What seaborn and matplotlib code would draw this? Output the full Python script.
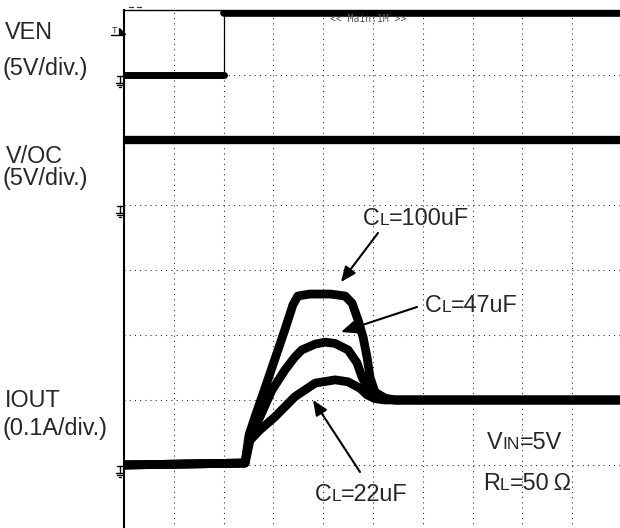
import numpy as np
import pandas as pd
import matplotlib
matplotlib.use("Agg")
import matplotlib.pyplot as plt
import matplotlib.transforms as mtransforms
from matplotlib.lines import Line2D
from matplotlib.patches import Polygon
import seaborn as sns

# ---------------- data (time in divisions, physical units per channel) -------------
ven_t = [0.0, 2.01, 2.01, 10.0]
ven_v = [0.0, 0.0, 4.75, 4.75]          # V
voc_t = [0.0, 10.0]
voc_v = [5.0, 5.0]                       # V

t_100 = [0, 2.43, 2.51, 2.63, 2.83, 3.03, 3.23, 3.39, 3.49, 3.73, 4.14, 4.44,
         4.58, 4.70, 4.80, 4.88, 4.94, 5.04, 5.18, 5.44, 10]
i_100 = [0, 0.003, 0.046, 0.074, 0.118, 0.163, 0.208, 0.246, 0.260, 0.263, 0.263,
         0.260, 0.249, 0.223, 0.197, 0.166, 0.135, 0.112, 0.102, 0.100, 0.100]
t_47 = [0, 2.43, 2.53, 2.73, 2.97, 3.23, 3.43, 3.57, 3.84, 4.04, 4.24, 4.50,
        4.68, 4.78, 4.88, 5.04, 5.24, 5.44, 10]
i_47 = [0, 0.003, 0.043, 0.074, 0.115, 0.146, 0.166, 0.177, 0.186, 0.189, 0.187,
        0.177, 0.157, 0.135, 0.120, 0.112, 0.103, 0.100, 0.100]
t_22 = [0, 2.43, 2.53, 2.73, 3.03, 3.43, 3.84, 4.24, 4.50, 4.74, 4.88, 5.04, 5.24, 10]
i_22 = [0, 0.003, 0.038, 0.054, 0.074, 0.105, 0.126, 0.131, 0.128, 0.118, 0.108,
        0.102, 0.100, 0.100]
cl_labels = ["100uF", "47uF", "22uF"]

# channel ground positions (div) and scales (units/div)
ven_gnd, ven_scale = 7.0, 5.0
voc_gnd, voc_scale = 5.0, 5.0
iout_gnd, iout_scale = 1.0, 0.1

# ---------------- figure ----------------
sns.set_style("white")
plt.rcParams["font.family"] = ["Liberation Sans", "DejaVu Sans"]

W, H = 620, 528
fig = plt.figure(figsize=(W / 100, H / 100), dpi=100)
ax = fig.add_axes([124 / W, 1 - 530 / H, 498 / W, 520 / H])
ax.set_xlim(0, 10)
ax.set_ylim(0, 8)
ax.set_xticks(range(11))
ax.set_yticks(range(9))
ax.tick_params(length=0, labelbottom=False, labelleft=False)
ax.grid(True, linestyle=(0, (1, 4)), color="#222222", lw=0.75)
ax.set_axisbelow(True)
for s in ["right", "bottom"]:
    ax.spines[s].set_visible(False)
ax.spines["left"].set_linewidth(1.5)
ax.spines["top"].set_linewidth(1.0)
ax.spines["left"].set_color("k")
ax.spines["top"].set_color("k")

# VEN trace
ven_y = [ven_gnd + v / ven_scale for v in ven_v]
sns.lineplot(x=ven_t[0:2], y=ven_y[0:2], ax=ax, color="k", lw=5, sort=False, estimator=None)
sns.lineplot(x=ven_t[1:3], y=ven_y[1:3], ax=ax, color="k", lw=0.9, sort=False, estimator=None)
sns.lineplot(x=ven_t[2:4], y=ven_y[2:4], ax=ax, color="k", lw=5.5, sort=False, estimator=None)

# V/OC trace
sns.lineplot(x=voc_t, y=[voc_gnd + v / voc_scale for v in voc_v], ax=ax, color="k",
             lw=6, sort=False, estimator=None)

# IOUT traces
df = pd.concat([
    pd.DataFrame({"t": t, "y": [iout_gnd + i / iout_scale for i in cur], "CL": lab})
    for t, cur, lab in zip([t_100, t_47, t_22], [i_100, i_47, i_22], cl_labels)
])
sns.lineplot(data=df, x="t", y="y", units="CL", estimator=None, sort=False,
             color="k", lw=6.3, ax=ax, legend=False)
ax.set_xlabel("")
ax.set_ylabel("")

# pixel transform (top-left origin)
px = mtransforms.Affine2D().scale(1, -1).translate(0, H)

def px2d(x, y):
    return (x - 124) / 49.8, (530 - y) / 65

# left labels
FS = 16.8
for txt, x, y in [("VEN", 5, 39), ("(5V/div.)", 2, 75), ("V/OC", 6, 163),
                  ("(5V/div.)", 2, 185), ("IOUT", 5, 407), ("(0.1A/div.)", 2, 435)]:
    fig.text(x, y, txt, transform=px, fontsize=FS, va="baseline", ha="left")

# ground markers
for g in [ven_gnd, voc_gnd, iout_gnd]:
    y0 = 530 - 65 * g + 0.5
    for (x1, y1, x2, y2) in [(116.5, y0, 124, y0), (119.5, y0, 119.5, y0 + 7),
                             (115.5, y0 + 7, 123.5, y0 + 7), (117, y0 + 9, 122, y0 + 9),
                             (118.5, y0 + 11, 120.5, y0 + 11)]:
        fig.add_artist(Line2D([x1, x2], [y1, y2], transform=px, color="k", lw=1.0))

# trigger marker
fig.text(112, 33, "T", transform=px, fontsize=6.5, va="baseline", ha="left")
fig.add_artist(Line2D([111, 124], [34.5, 34.5], transform=px, color="k", lw=1.0))
fig.add_artist(Polygon([[119.3, 28.3], [119.3, 34], [124.5, 34]], closed=True,
                       transform=px, color="k"))
# small dashes at top
for xa, xb in [(129, 133), (137, 141)]:
    fig.add_artist(Line2D([xa, xb], [7, 7], transform=px, color="#333333", lw=0.9))

# top status text
fig.text(330, 22, "<< Main:1M >>", transform=px, fontsize=7, color="#555555",
         family="DejaVu Sans Mono", va="baseline", ha="left")

# labels with small-cap subscripts
renderer = fig.canvas.get_renderer()
def multi_label(x, y, parts):
    dx = 0.0
    for s, size in parts:
        tr = mtransforms.offset_copy(px, fig=fig, x=dx, y=0, units="dots")
        t = fig.text(x, y, s, transform=tr, fontsize=size, va="baseline", ha="left")
        dx += t.get_window_extent(renderer).width

SM = 12.5
multi_label(363, 225, [("C", FS), ("L", SM), ("=100uF", FS)])
multi_label(425, 312, [("C", FS), ("L", SM), ("=47uF", FS)])
multi_label(315, 501, [("C", FS), ("L", SM), ("=22uF", FS)])
multi_label(487, 449, [("V", FS), ("IN", SM), ("=5V", FS)])
multi_label(483, 490, [("R", FS), ("L", SM), ("=50", FS), ("\u2009\u03a9", FS)])

# arrows (data coords)
arrow_style = matplotlib.patches.ArrowStyle("-|>", head_length=0.7, head_width=0.3)
for tail, head in [((378, 233), (341, 282)), ((417, 307), (341, 332)),
                   ((360, 472), (313, 400))]:
    ax.annotate("", xy=px2d(*head), xytext=px2d(*tail),
                arrowprops=dict(arrowstyle=arrow_style, color="k", lw=1.5,
                                mutation_scale=13, shrinkA=0, shrinkB=0))

fig.savefig("out.png", dpi=100)
